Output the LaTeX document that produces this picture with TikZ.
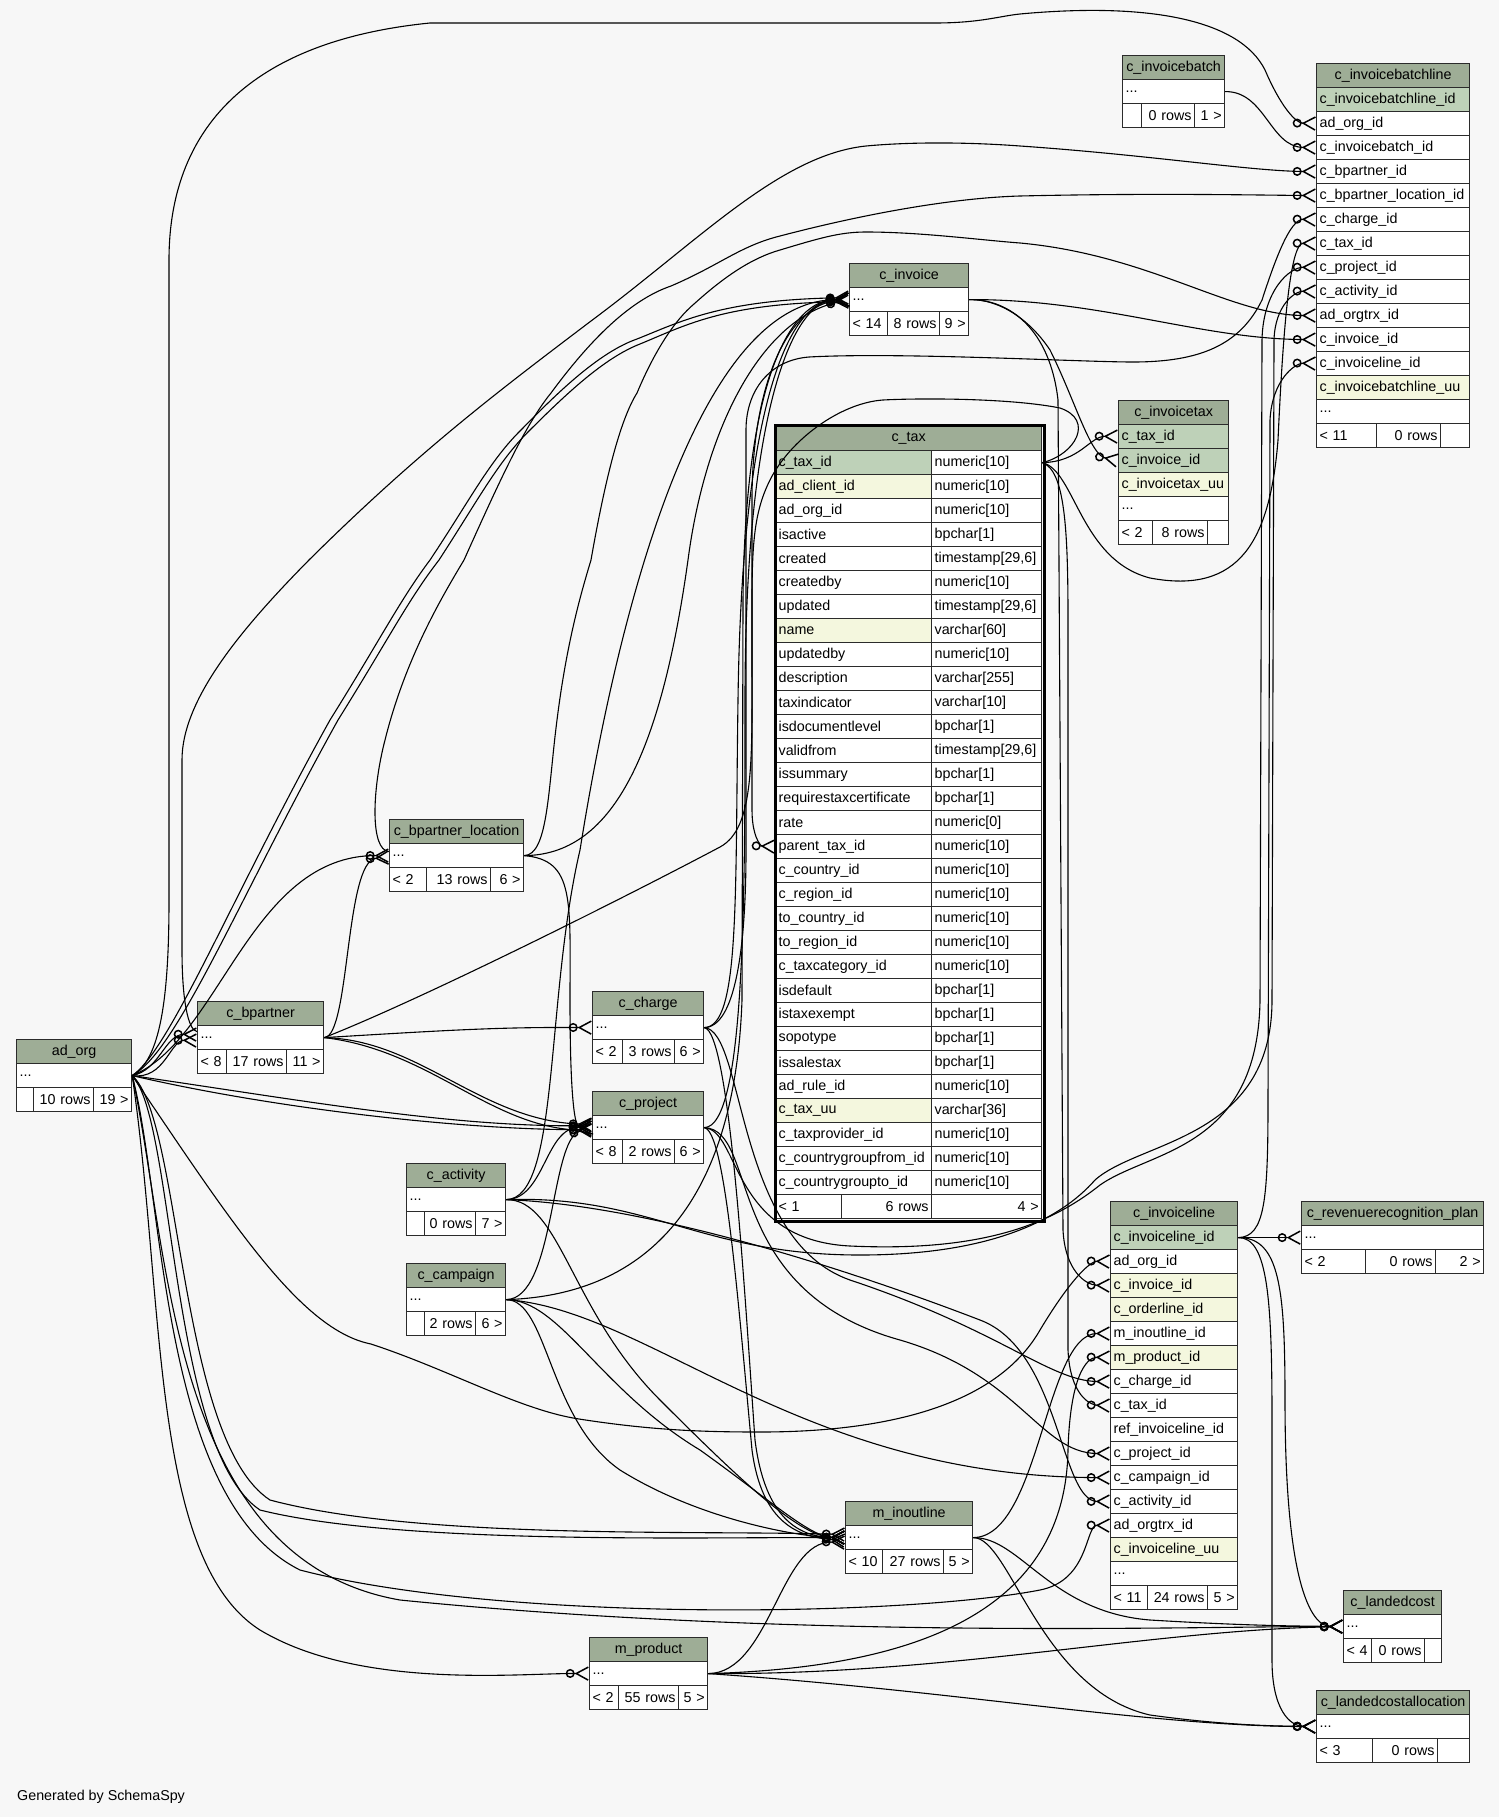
\documentclass[tikz,border=0pt]{standalone}
\usepackage{fontspec}
\setmainfont{Liberation Sans}
\usetikzlibrary{arrows.meta, positioning}
\definecolor{bgpage}{HTML}{F7F7F7}
\definecolor{headfill}{HTML}{9EAD96}
\definecolor{pkfill}{HTML}{BED1B8}
\definecolor{idxfill}{HTML}{F4F7DE}
\definecolor{gridline}{HTML}{2B2B2B}
\newcommand\tdots{...}
\tikzset{
  font=\fontsize{14.3}{17}\selectfont,
  thead/.style={draw=gridline, fill=headfill, line width=1.2pt, minimum width=#1,
    minimum height=24pt, inner sep=0pt, anchor=north west},
  tcell/.style={draw=gridline, fill=white, line width=1.2pt, text width=#1,
    minimum height=24pt, inner xsep=3pt, inner ysep=0pt, anchor=north west, align=left},
  tnum/.style={tcell=#1, align=right},
  rel/.style={draw=black, line width=1.1pt},
  crow/.style={rel, -{Circle[open,length=9pt,width=9pt,line width=1.5pt]
    Straight Barb[reversed,length=12pt,width=13pt,line width=1.5pt]}}
}

\begin{document}
\begin{tikzpicture}[x=1pt, y=-1pt]
  \fill[bgpage] (0,0) rectangle (1499,1817);
  \useasboundingbox (0,0) rectangle (1499,1817);

  % ad_org
  \node[thead=115pt] (org-h) at (16,1039) {ad\_org};
  \node[tcell=109pt] (org) at (16,1063) {\tdots};
  \node[tcell=11pt] (org-f1) at (16,1087) {};
  \node[tnum=54pt] (org-f2) at (33,1087) {10 rows};
  \node[tnum=32pt] (org-f3) at (93,1087) {19 >};

  % c_bpartner
  \node[thead=126pt] (bp-h) at (197,1001) {c\_bpartner};
  \node[tcell=120pt] (bp) at (197,1025) {\tdots};
  \node[tcell=23pt] (bp-f1) at (197,1049) {< 8};
  \node[tnum=54pt] (bp-f2) at (226,1049) {17 rows};
  \node[tnum=31pt] (bp-f3) at (286,1049) {11 >};

  % c_bpartner_location
  \node[thead=134pt] (bpl-h) at (389,819) {c\_bpartner\_location};
  \node[tcell=128pt] (bpl) at (389,843) {\tdots};
  \node[tcell=31pt] (bpl-f1) at (389,867) {< 2};
  \node[tnum=58pt] (bpl-f2) at (426,867) {13 rows};
  \node[tnum=27pt] (bpl-f3) at (490,867) {6 >};

  % c_charge
  \node[thead=111pt] (chg-h) at (592,991) {c\_charge};
  \node[tcell=105pt] (chg) at (592,1015) {\tdots};
  \node[tcell=24pt] (chg-f1) at (592,1039) {< 2};
  \node[tnum=46pt] (chg-f2) at (622,1039) {3 rows};
  \node[tnum=23pt] (chg-f3) at (674,1039) {6 >};

  % c_project
  \node[thead=111pt] (prj-h) at (592,1091) {c\_project};
  \node[tcell=105pt] (prj) at (592,1115) {\tdots};
  \node[tcell=24pt] (prj-f1) at (592,1139) {< 8};
  \node[tnum=46pt] (prj-f2) at (622,1139) {2 rows};
  \node[tnum=23pt] (prj-f3) at (674,1139) {6 >};

  % c_activity
  \node[thead=99pt] (act-h) at (406,1163) {c\_activity};
  \node[tcell=93pt] (act) at (406,1187) {\tdots};
  \node[tcell=12pt] (act-f1) at (406,1211) {};
  \node[tnum=45pt] (act-f2) at (424,1211) {0 rows};
  \node[tnum=24pt] (act-f3) at (475,1211) {7 >};

  % c_campaign
  \node[thead=99pt] (cmp-h) at (406,1263) {c\_campaign};
  \node[tcell=93pt] (cmp) at (406,1287) {\tdots};
  \node[tcell=12pt] (cmp-f1) at (406,1311) {};
  \node[tnum=45pt] (cmp-f2) at (424,1311) {2 rows};
  \node[tnum=24pt] (cmp-f3) at (475,1311) {6 >};

  % m_product
  \node[thead=118pt] (prod-h) at (589,1637) {m\_product};
  \node[tcell=112pt] (prod) at (589,1661) {\tdots};
  \node[tcell=23pt] (prod-f1) at (589,1685) {< 2};
  \node[tnum=54pt] (prod-f2) at (618,1685) {55 rows};
  \node[tnum=23pt] (prod-f3) at (678,1685) {5 >};

  % m_inoutline
  \node[thead=127pt] (io-h) at (845,1501) {m\_inoutline};
  \node[tcell=121pt] (io) at (845,1525) {\tdots};
  \node[tcell=31pt] (io-f1) at (845,1549) {< 10};
  \node[tnum=55pt] (io-f2) at (882,1549) {27 rows};
  \node[tnum=23pt] (io-f3) at (943,1549) {5 >};

  % c_invoice
  \node[thead=119pt] (inv-h) at (849,263) {c\_invoice};
  \node[tcell=113pt] (inv) at (849,287) {\tdots};
  \node[tcell=32pt] (inv-f1) at (849,311) {< 14};
  \node[tnum=46pt] (inv-f2) at (887,311) {8 rows};
  \node[tnum=23pt] (inv-f3) at (939,311) {9 >};

  % c_invoicebatch
  \node[thead=102pt] (ib-h) at (1122,55) {c\_invoicebatch};
  \node[tcell=96pt] (ib) at (1122,79) {\tdots};
  \node[tcell=13pt] (ib-f1) at (1122,103) {};
  \node[tnum=47pt] (ib-f2) at (1141,103) {0 rows};
  \node[tnum=24pt] (ib-f3) at (1194,103) {1 >};

  % c_invoicebatchline
  \node[thead=153pt] (ibl-h) at (1316,63) {c\_invoicebatchline};
  \foreach \cname/\cfill [count=\k] in {c\_invoicebatchline\_id/pkfill, ad\_org\_id/white,
      c\_invoicebatch\_id/white, c\_bpartner\_id/white, c\_bpartner\_location\_id/white,
      c\_charge\_id/white, c\_tax\_id/white, c\_project\_id/white, c\_activity\_id/white,
      ad\_orgtrx\_id/white, c\_invoice\_id/white, c\_invoiceline\_id/white,
      c\_invoicebatchline\_uu/idxfill, \tdots/white}
    \node[tcell=147pt, fill=\cfill] (ibl-\k) at (1316,{63+24*\k}) {\cname};
  \node[tcell=54pt] (ibl-f1) at (1316,423) {< 11};
  \node[tnum=58pt] (ibl-f2) at (1376,423) {0 rows};
  \node[tnum=23pt] (ibl-f3) at (1440,423) {};

  % c_invoicetax
  \node[thead=110pt] (itx-h) at (1118,400) {c\_invoicetax};
  \foreach \cname/\cfill [count=\k] in {c\_tax\_id/pkfill, c\_invoice\_id/pkfill,
      c\_invoicetax\_uu/idxfill, \tdots/white}
    \node[tcell=104pt, fill=\cfill] (itx-\k) at (1118,{400+24*\k}) {\cname};
  \node[tcell=28pt] (itx-f1) at (1118,520) {< 2};
  \node[tnum=49pt] (itx-f2) at (1152,520) {8 rows};
  \node[tnum=15pt] (itx-f3) at (1207,520) {};

  % c_tax
  \node[thead=266pt, minimum height=25pt] (tax-h) at (775,425) {c\_tax};
  \foreach \cname/\ctype/\cfill [count=\k] in {
      c\_tax\_id/numeric[10]/pkfill, ad\_client\_id/numeric[10]/idxfill,
      ad\_org\_id/numeric[10]/white, isactive/bpchar[1]/white,
      created/{timestamp[29,6]}/white, createdby/numeric[10]/white,
      updated/{timestamp[29,6]}/white, name/varchar[60]/idxfill,
      updatedby/numeric[10]/white, description/varchar[255]/white,
      taxindicator/varchar[10]/white, isdocumentlevel/bpchar[1]/white,
      validfrom/{timestamp[29,6]}/white, issummary/bpchar[1]/white,
      requirestaxcertificate/bpchar[1]/white, rate/numeric[0]/white,
      parent\_tax\_id/numeric[10]/white, c\_country\_id/numeric[10]/white,
      c\_region\_id/numeric[10]/white, to\_country\_id/numeric[10]/white,
      to\_region\_id/numeric[10]/white, c\_taxcategory\_id/numeric[10]/white,
      isdefault/bpchar[1]/white, istaxexempt/bpchar[1]/white,
      sopotype/bpchar[1]/white, issalestax/bpchar[1]/white,
      ad\_rule\_id/numeric[10]/white, c\_tax\_uu/varchar[36]/idxfill,
      c\_taxprovider\_id/numeric[10]/white, c\_countrygroupfrom\_id/numeric[10]/white,
      c\_countrygroupto\_id/numeric[10]/white}{
    \node[tcell=150pt, fill=\cfill] (tax-\k) at (775,{426+24*\k}) {\cname};
    \node[tcell=104pt] (taxt-\k) at (931,{426+24*\k}) {\ctype};
  }
  \node[tcell=60pt] (tax-f1) at (775,1194) {< 1};
  \node[tnum=84pt] (tax-f2) at (841,1194) {6 rows};
  \node[tnum=104pt] (tax-f3) at (931,1194) {4 >};
  \node[draw=black, line width=3pt, minimum width=269pt, minimum height=796pt,
    inner sep=0pt, anchor=north west] (tax-frame) at (773.5,423.5) {};

  % c_invoiceline
  \node[thead=127pt] (il-h) at (1110,1201) {c\_invoiceline};
  \foreach \cname/\cfill [count=\k] in {c\_invoiceline\_id/pkfill, ad\_org\_id/white,
      c\_invoice\_id/idxfill, c\_orderline\_id/idxfill, m\_inoutline\_id/white,
      m\_product\_id/idxfill, c\_charge\_id/white, c\_tax\_id/white,
      ref\_invoiceline\_id/white, c\_project\_id/white, c\_campaign\_id/white,
      c\_activity\_id/white, ad\_orgtrx\_id/white, c\_invoiceline\_uu/idxfill, \tdots/white}
    \node[tcell=121pt, fill=\cfill] (il-\k) at (1110,{1201+24*\k}) {\cname};
  \node[tcell=31pt] (il-f1) at (1110,1585) {< 11};
  \node[tnum=54pt] (il-f2) at (1147,1585) {24 rows};
  \node[tnum=24pt] (il-f3) at (1207,1585) {5 >};

  % c_revenuerecognition_plan
  \node[thead=182pt] (rrp-h) at (1301,1201) {c\_revenuerecognition\_plan};
  \node[tcell=176pt] (rrp) at (1301,1225) {\tdots};
  \node[tcell=58pt] (rrp-f1) at (1301,1249) {< 2};
  \node[tnum=64pt] (rrp-f2) at (1365,1249) {0 rows};
  \node[tnum=42pt] (rrp-f3) at (1435,1249) {2 >};

  % c_landedcost
  \node[thead=98pt] (lc-h) at (1343,1590) {c\_landedcost};
  \node[tcell=92pt] (lc) at (1343,1614) {\tdots};
  \node[tcell=22pt] (lc-f1) at (1343,1638) {< 4};
  \node[tnum=47pt] (lc-f2) at (1371,1638) {0 rows};
  \node[tnum=11pt] (lc-f3) at (1424,1638) {};

  % c_landedcostallocation
  \node[thead=153pt] (lca-h) at (1316,1690) {c\_landedcostallocation};
  \node[tcell=147pt] (lca) at (1316,1714) {\tdots};
  \node[tcell=50pt] (lca-f1) at (1316,1738) {< 3};
  \node[tnum=59pt] (lca-f2) at (1372,1738) {0 rows};
  \node[tnum=26pt] (lca-f3) at (1437,1738) {};

  \node[anchor=west, inner sep=0pt] (credit) at (17,1797) {Generated by SchemaSpy};

  % ad_org
  \draw[crow] (org.east) .. controls (160,1060) and (169,1000) .. (169,900) -- (169,260)
    .. controls (169,120) and (260,40) .. (430,23) -- (935,23) .. controls (980,23) and (1000,16) .. (1020,14)
    .. controls (1150,2) and (1240,20) .. (1265,70) .. controls (1280,105) and (1295,123) .. (ibl-2.west);
  \draw[crow] (org.east) .. controls (160,1070) and (165,1034) .. ([yshift=3pt]bp.west);
  \draw[crow] (org.east) .. controls (165,1080) and (170,1040) .. ([yshift=-3pt]bp.west);
  \draw[crow] (org.east) .. controls (220,1040) and (250,855) .. (bpl.west);
  \draw[crow] (org.east) .. controls (170,1050) and (230,900) .. (330,720)
    .. controls (380,640) and (400,600) .. (430,560) .. controls (470,500) and (490,460) .. (522,429)
    .. controls (560,390) and (600,352) .. (637,339) .. controls (680,322) and (720,300) .. ([yshift=2pt]inv.west);
  \draw[crow] (org.east) .. controls (178,1050) and (238,900) .. (338,720)
    .. controls (388,640) and (408,600) .. (439,560) .. controls (478,500) and (498,462) .. (528,432)
    .. controls (566,394) and (604,358) .. (640,344) .. controls (684,326) and (722,304) .. ([yshift=-2pt]inv.west);
  \draw[crow] (org.east) .. controls (300,1100) and (450,1127) .. ([yshift=2pt]prj.west);
  \draw[crow] (org.east) .. controls (280,1110) and (470,1130) .. ([yshift=-2pt]prj.west);
  \draw[crow] (org.east) .. controls (175,1120) and (170,1450) .. (260,1510)
    .. controls (400,1545) and (700,1537) .. (io.west);
  \draw[crow] (org.east) .. controls (182,1120) and (178,1440) .. (270,1500)
    .. controls (420,1540) and (700,1530) .. ([yshift=3pt]io.west);
  \draw[crow] (org.east) .. controls (165,1300) and (150,1560) .. (260,1630)
    .. controls (360,1690) and (520,1673) .. (prod.west);
  \draw[crow] (org.east) .. controls (165,1200) and (160,1500) .. (300,1570)
    .. controls (500,1622) and (900,1617) .. (1040,1590) .. controls (1090,1580) and (1085,1525) .. (il-13.west);
  \draw[crow] (org.east) .. controls (170,1250) and (170,1560) .. (400,1600)
    .. controls (800,1640) and (1200,1626) .. (lc.west);
  \draw[crow] (org.east) .. controls (230,1220) and (300,1330) .. (371,1344)
    .. controls (450,1370) and (520,1410) .. (579,1419) .. controls (650,1430) and (700,1432) .. (760,1432)
    .. controls (900,1432) and (1000,1400) .. (1040,1330) .. controls (1070,1280) and (1090,1261) .. (il-2.west);

  % c_bpartner
  \draw[crow] (bp.east) .. controls (350,1037) and (345,860) .. ([yshift=-2pt]bpl.west);
  \draw[crow] ([yshift=6pt]bp.west) .. controls (188,1030) and (182,1000) .. (182,950) -- (182,760)
    .. controls (182,700) and (240,630) .. (309,560) .. controls (420,450) and (500,390) .. (591,321)
    .. controls (700,240) and (780,155) .. (866,146) .. controls (920,141) and (980,143) .. (1020,146)
    .. controls (1150,155) and (1250,171) .. (ibl-4.west);
  \draw[crow] (bp.east) .. controls (450,1030) and (500,1027) .. (chg.west);
  \draw[crow] (bp.east) .. controls (420,1040) and (480,1120) .. ([yshift=3pt]prj.west);
  \draw[crow] (bp.east) .. controls (430,1050) and (490,1127) .. ([yshift=-3pt]prj.west);
  \draw[crow] (bp.east) .. controls (420,1000) and (620,900) .. (720,847)
    .. controls (755,828) and (752,760) .. (752,650) -- (752,500)
    .. controls (752,380) and (790,305) .. (inv.west);

  % c_bpartner_location
  \draw[crow] ([yshift=4pt]bpl.west) .. controls (370,850) and (372,790) .. (385,740)
    .. controls (405,660) and (440,600) .. (464,560) .. controls (500,480) and (525,425) .. (551,393)
    .. controls (590,340) and (630,300) .. (671,286) .. controls (720,265) and (740,246) .. (780,236)
    .. controls (860,215) and (950,198) .. (1020,196) .. controls (1150,193) and (1250,195) .. (ibl-5.west);
  \draw[crow] (bpl.east) .. controls (548,855) and (548,790) .. (557,720)
    .. controls (567,640) and (582,590) .. (591,560) .. controls (605,480) and (620,420) .. (637,393)
    .. controls (655,350) and (675,320) .. (694,304) .. controls (725,276) and (752,258) .. (780,250)
    .. controls (820,238) and (840,232) .. (866,232) .. controls (920,232) and (980,240) .. (1020,243)
    .. controls (1150,255) and (1230,315) .. (ibl-10.west);
  \draw[crow] (bpl.east) .. controls (610,855) and (660,760) .. (688,560)
    .. controls (705,430) and (760,320) .. (inv.west);
  \draw[crow] (bpl.east) .. controls (575,860) and (570,900) .. (570,1000)
    .. controls (570,1100) and (575,1127) .. (prj.west);

  % c_charge
  \draw[crow] (chg.east) .. controls (740,1027) and (735,900) .. (738,700)
    .. controls (742,400) and (790,299) .. (inv.west);
  \draw[crow] (chg.east) .. controls (735,1027) and (746,950) .. (746,850) -- (746,430)
    .. controls (746,390) and (770,360) .. (809,357) .. controls (900,352) and (1080,362) .. (1133,362)
    .. controls (1200,362) and (1240,345) .. (1262,300) .. controls (1275,260) and (1290,219) .. (ibl-6.west);
  \draw[crow] (chg.east) .. controls (745,1030) and (735,1240) .. (850,1280)
    .. controls (1000,1330) and (1050,1381) .. (il-7.west);
  \draw[crow] (chg.east) .. controls (730,1030) and (745,1300) .. (755,1440)
    .. controls (765,1520) and (800,1537) .. (io.west);

  % c_project
  \draw[crow] (prj.east) .. controls (745,1127) and (745,900) .. (745,700)
    .. controls (745,420) and (790,299) .. (inv.west);
  \draw[crow] (prj.east) .. controls (740,1130) and (730,1240) .. (850,1246)
    .. controls (980,1252) and (1050,1225) .. (1100,1185) .. controls (1150,1150) and (1258,1150) .. (1260,1000)
    -- (1262,340) .. controls (1263,290) and (1290,267) .. (ibl-8.west);
  \draw[crow] (prj.east) .. controls (760,1130) and (720,1290) .. (900,1340)
    .. controls (1020,1375) and (1040,1453) .. (il-10.west);
  \draw[crow] (prj.east) .. controls (725,1130) and (738,1300) .. (752,1450)
    .. controls (762,1525) and (800,1537) .. ([yshift=-3pt]io.west);

  % c_activity
  \draw[crow] (act.east) .. controls (545,1199) and (545,1127) .. (prj.west);
  \draw[crow] (act.east) .. controls (560,1199) and (545,1000) .. (580,850)
    .. controls (620,600) and (700,300) .. (inv.west);
  \draw[crow] (act.east) .. controls (560,1199) and (570,1310) .. (660,1400)
    .. controls (740,1480) and (800,1537) .. (io.west);
  \draw[crow] (act.east) .. controls (650,1205) and (850,1270) .. (980,1320)
    .. controls (1060,1350) and (1060,1501) .. (il-12.west);
  \draw[crow] (act.east) .. controls (650,1195) and (700,1255) .. (860,1255)
    .. controls (990,1255) and (1060,1220) .. (1095,1180) .. controls (1140,1140) and (1272,1140) .. (1272,1000)
    -- (1274,340) .. controls (1275,305) and (1295,291) .. (ibl-9.west);

  % c_campaign
  \draw[crow] (cmp.east) .. controls (555,1299) and (550,1140) .. (prj.west);
  \draw[crow] (cmp.east) .. controls (650,1295) and (735,1200) .. (742,1000) -- (743,600)
    .. controls (745,380) and (790,299) .. (inv.west);
  \draw[crow] (cmp.east) .. controls (548,1300) and (548,1420) .. (620,1470)
    .. controls (700,1520) and (800,1537) .. (io.west);
  \draw[crow] (cmp.east) .. controls (560,1300) and (600,1390) .. (700,1450)
    .. controls (770,1500) and (810,1537) .. (io.west);
  \draw[crow] (cmp.east) .. controls (650,1310) and (800,1477) .. (il-11.west);

  % c_invoice
  \draw[crow] (inv.east) .. controls (1100,299) and (1200,339) .. (ibl-11.west);
  \draw[crow] (inv.east) .. controls (1000,299) and (1030,320) .. (1050,350)
    .. controls (1075,400) and (1090,455) .. (itx-2.west);
  \draw[crow] (inv.east) .. controls (1010,299) and (1050,330) .. (1058,400) -- (1063,1230)
    .. controls (1065,1270) and (1085,1285) .. (il-3.west);

  % c_tax
  \draw[crow] (taxt-1.east) .. controls (1080,462) and (1090,436) .. (itx-1.west);
  \draw[crow] (taxt-1.east) .. controls (1075,455) and (1095,420) .. (1060,408)
    .. controls (1010,398) and (920,398) .. (883,400) .. controls (840,403) and (790,440) .. (770,480)
    .. controls (755,510) and (752,540) .. (752,600) -- (752,810)
    .. controls (752,835) and (760,846) .. (tax-17.west);
  \draw[crow] (taxt-1.east) .. controls (1075,470) and (1080,560) .. (1150,578)
    .. controls (1240,595) and (1270,540) .. (1278,440) .. controls (1283,330) and (1290,243) .. (ibl-7.west);
  \draw[crow] (taxt-1.east) .. controls (1065,470) and (1068,530) .. (1068,620) -- (1068,1350)
    .. controls (1070,1395) and (1090,1405) .. (il-8.west);

  % c_invoicebatch
  \draw[crow] (ib.east) .. controls (1265,91) and (1270,147) .. (ibl-3.west);

  % c_invoiceline
  \draw[crow] (il-1.east) -- (rrp.west);
  \draw[crow] (il-1.east) .. controls (1265,1237) and (1268,1200) .. (1268,1100) -- (1270,420)
    .. controls (1272,380) and (1295,363) .. (ibl-12.west);
  \draw[crow] (il-1.east) .. controls (1280,1237) and (1285,1290) .. (1285,1400)
    .. controls (1285,1580) and (1310,1626) .. (lc.west);
  \draw[crow] (il-1.east) .. controls (1268,1237) and (1272,1300) .. (1272,1420) -- (1272,1660)
    .. controls (1272,1710) and (1290,1726) .. (lca.west);

  % m_inoutline
  \draw[crow] (io.east) .. controls (1040,1537) and (1045,1333) .. (il-5.west);
  \draw[crow] (io.east) .. controls (1020,1537) and (1050,1612) .. (1150,1620)
    .. controls (1250,1626) and (1300,1626) .. (lc.west);
  \draw[crow] (io.east) .. controls (1010,1537) and (1040,1690) .. (1150,1715)
    .. controls (1230,1726) and (1280,1726) .. (lca.west);

  % m_product
  \draw[crow] (prod.east) .. controls (770,1673) and (780,1540) .. ([yshift=-5pt]io.west);
  \draw[crow] (prod.east) .. controls (900,1668) and (1065,1620) .. (1068,1450)
    .. controls (1070,1380) and (1085,1357) .. (il-6.west);
  \draw[crow] (prod.east) .. controls (950,1675) and (1150,1630) .. (lc.west);
  \draw[crow] (prod.east) .. controls (950,1690) and (1150,1726) .. (lca.west);
\end{tikzpicture}
\end{document}
